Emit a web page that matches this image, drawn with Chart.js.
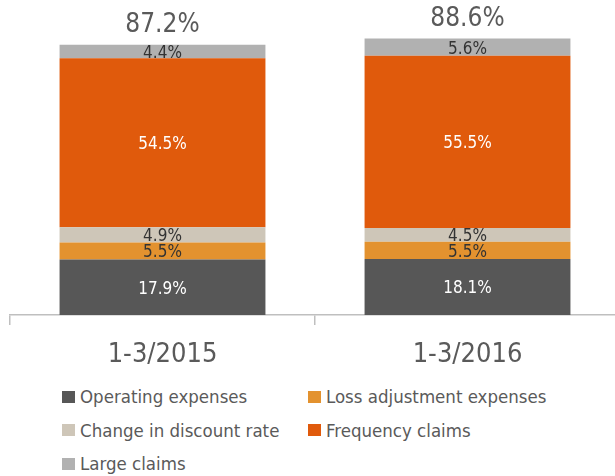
<!DOCTYPE html>
<html>
<head>
<meta charset="utf-8">
<script src="https://cdn.jsdelivr.net/npm/chart.js@4.4.1/dist/chart.umd.min.js"></script>
<style>
    html, body { margin: 0; padding: 0; background: #fff; overflow: hidden; width: 615px; height: 476px; }
    #wrap { position: relative; width: 620px; height: 380px; }
    #legend {
        position: absolute; left: 62px; top: 384px;
        display: grid; grid-template-columns: 246px 260px; row-gap: 8.5px;
        font-family: "DejaVu Sans Condensed", "Liberation Sans Narrow", "DejaVu Sans", sans-serif;
        font-size: 18.5px; color: #5a5a5a;
    }
    #legend .item { display: flex; align-items: center; height: 25px; white-space: nowrap; }
    #legend .box { width: 13px; height: 12px; margin-right: 5px; }
</style>
</head>
<body>
<div id="wrap"><canvas id="chart"></canvas></div>
<div id="legend"></div>
<script>
// --- Data ---
const periods = ["1-3/2015", "1-3/2016"];
const seriesNames = ["Operating expenses", "Loss adjustment expenses", "Change in discount rate", "Frequency claims", "Large claims"];
const operatingExpenses = [17.9, 18.1];
const lossAdjustment = [5.5, 5.5];
const discountRate = [4.9, 4.5];
const frequencyClaims = [54.5, 55.5];
const largeClaims = [4.4, 5.6];
const totals = [87.2, 88.6];

const FONT = '"DejaVu Sans Condensed", "Liberation Sans Narrow", "DejaVu Sans", sans-serif';
const colors = ["#575757", "#E3922F", "#CEC6B8", "#E05A0C", "#B1B1B1"];
const labelColors = ["#ffffff", "#333333", "#333333", "#ffffff", "#333333"];
const values = [operatingExpenses, lossAdjustment, discountRate, frequencyClaims, largeClaims];

// --- Value labels plugin ---
const valueLabels = {
    id: "valueLabels",
    afterDatasetsDraw(chart) {
        const ctx = chart.ctx;
        ctx.save();
        ctx.textAlign = "center";
        ctx.textBaseline = "middle";
        ctx.font = "17px " + FONT;
        chart.data.datasets.forEach((ds, i) => {
            chart.getDatasetMeta(i).data.forEach((bar, j) => {
                const mid = (bar.y + bar.base) / 2;
                ctx.fillStyle = labelColors[i];
                ctx.fillText(ds.data[j].toFixed(1) + "%", bar.x, mid + 2);
            });
        });
        // totals above the bars
        const last = chart.getDatasetMeta(chart.data.datasets.length - 1);
        ctx.font = "26px " + FONT;
        ctx.fillStyle = "#5a5a5a";
        last.data.forEach((bar, j) => {
            ctx.fillText(totals[j].toFixed(1) + "%", bar.x, bar.y - 19);
        });
        ctx.restore();
    }
};

const chart = new Chart(document.getElementById("chart"), {
    type: "bar",
    data: {
        labels: periods,
        datasets: seriesNames.map((name, i) => ({
            label: name,
            data: values[i],
            backgroundColor: colors[i],
            categoryPercentage: 1,
            barPercentage: 0.675
        }))
    },
    options: {
        responsive: true,
        maintainAspectRatio: false,
        animation: false,
        layout: { padding: { left: 10, right: 0, top: 5, bottom: 0 } },
        plugins: { legend: { display: false }, tooltip: { enabled: false } },
        scales: {
            x: {
                stacked: true,
                grid: { drawOnChartArea: false, drawTicks: true, tickLength: 10, color: "#bfbfbf", lineWidth: 1.5 },
                border: { display: true, color: "#bfbfbf", width: 1.5 },
                ticks: { color: "#5a5a5a", font: { family: FONT, size: 27 }, padding: 14 },
                afterFit(scale) { scale.height = 65; }
            },
            y: { stacked: true, display: false, min: 0, max: 100 }
        }
    },
    plugins: [valueLabels]
});

// --- HTML legend from the datasets ---
const legend = document.getElementById("legend");
chart.data.datasets.forEach(ds => {
    const item = document.createElement("div");
    item.className = "item";
    item.innerHTML = `<span class="box" style="background:${ds.backgroundColor}"></span><span>${ds.label}</span>`;
    legend.appendChild(item);
});
</script>
</body>
</html>
